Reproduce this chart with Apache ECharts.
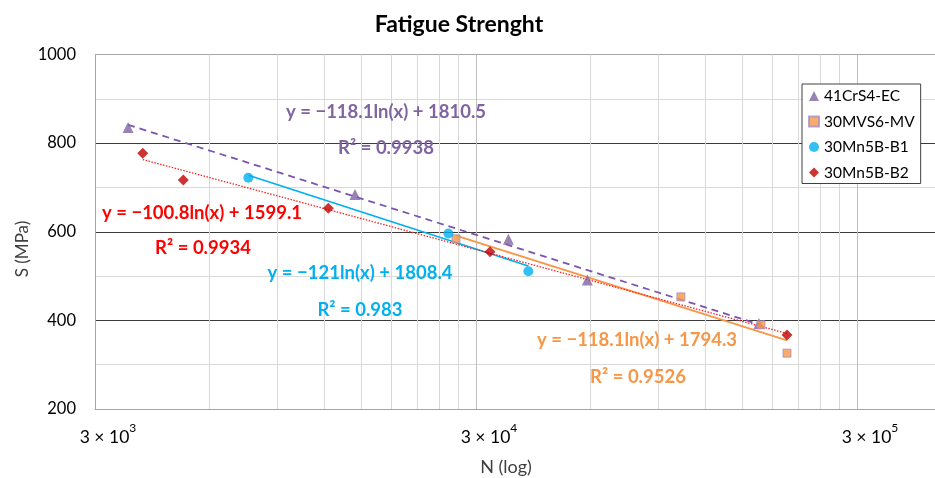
<!DOCTYPE html>
<html>
<head>
<meta charset="utf-8">
<script src="https://cdn.jsdelivr.net/npm/echarts@6/dist/echarts.min.js"></script>
<style>
html,body{margin:0;padding:0;background:#fff;}
#chart{width:935px;height:478px;}
</style>
</head>
<body>
<div id="chart"></div>
<script>
// ---- Data ----
const seriesNames = ['41CrS4-EC', '30MVS6-MV', '30Mn5B-B1', '30Mn5B-B2'];
const crsN = [3663, 14440, 36480, 58800, 165900];
const crsS = [835, 684, 583, 491, 393];
const mvN = [26590, 103500, 167900, 196500];
const mvS = [584, 453, 390, 326];
const b1N = [7578, 25390, 41170];
const b1S = [722, 596, 511];
const b2N = [4003, 5115, 12290, 32650, 196500];
const b2S = [777, 717, 653, 555, 367];
// Trendline equations shown on the chart: y = a*ln(x) + b
const trendA = [-118.1, -118.1, -121, -100.8];
const trendB = [1810.5, 1794.3, 1808.4, 1599.1];
const trendEq = ['y = −118.1ln(x) + 1810.5', 'y = −118.1ln(x) + 1794.3', 'y = −121ln(x) + 1808.4', 'y = −100.8ln(x) + 1599.1'];
const trendR2 = ['R² = 0.9938', 'R² = 0.9526', 'R² = 0.983', 'R² = 0.9934'];
// Axis ticks
const xTickValues = [3000, 30000, 300000];
const xTickExp = ['3', '4', '5'];
const yTicks = [200, 400, 600, 800, 1000];
const xMin = 3000, xMax = 480700;

const FONT = 'Lato, "Open Sans", sans-serif';
const colors = ['#8064A2', '#F79646', '#00B0F0', '#C00000'];
const trendColors = ['#7B55B0', '#F79646', '#00B0F0', '#FF2020'];
const textColors = ['#8064A2', '#F79646', '#00B0F0', '#FF0000'];
const allN = [crsN, mvN, b1N, b2N];
const allS = [crsS, mvS, b1S, b2S];
const symbols = ['triangle', 'rect', 'circle', 'diamond'];
const symSizes = [11, 8, 10, 11];

// vertical grid positions (3000*k per decade)
const xGrid = [];
const xGridColors = [];
[3000, 30000, 300000].forEach(function (d) {
  for (let k = 1; k <= 9; k++) {
    const v = d * k;
    if (v > xMax) break;
    xGrid.push(v);
    xGridColors.push(k === 1 ? '#bfbfbf' : '#d9d9d9');
  }
});

const series = [];
// trend lines
for (let i = 0; i < 4; i++) {
  const ns = allN[i];
  const nMin = Math.min.apply(null, ns), nMax = Math.max.apply(null, ns);
  const pts = [nMin, nMax].map(function (n) { return [n, trendA[i] * Math.log(n) + trendB[i]]; });
  series.push({
    type: 'line',
    name: seriesNames[i] + ' trend',
    data: pts,
    showSymbol: false,
    silent: true,
    z: 1,
    lineStyle: {
      color: trendColors[i],
      width: i === 3 ? 1.3 : 1.8,
      type: i === 0 ? [7, 5] : (i === 3 ? [1.5, 1.5] : 'solid')
    }
  });
}
// scatter points
for (let i = 0; i < 4; i++) {
  series.push({
    type: 'scatter',
    name: seriesNames[i],
    data: allN[i].map(function (n, j) { return [n, allS[i][j]]; }),
    symbol: symbols[i],
    symbolSize: symSizes[i],
    z: 3,
    itemStyle: i === 1 ? { color: colors[i], borderColor: '#A68FC4', borderWidth: 1 } : { color: colors[i] }
  });
}

const eqPos = [[386, 112, 386, 148], [637, 340, 638, 377], [360, 273, 360, 310], [202, 213, 203, 248]];
const graphics = [];
for (let i = 0; i < 4; i++) {
  graphics.push({ type: 'text', x: eqPos[i][0], y: eqPos[i][1], z: 10,
    style: { text: trendEq[i], fill: textColors[i], font: 'bold 18.5px ' + FONT, textAlign: 'center', textVerticalAlign: 'middle' } });
  graphics.push({ type: 'text', x: eqPos[i][2], y: eqPos[i][3], z: 10,
    style: { text: trendR2[i], fill: textColors[i], font: 'bold 18.5px ' + FONT, textAlign: 'center', textVerticalAlign: 'middle' } });
}
graphics.push({ type: 'text', x: 506, y: 467, style: { text: 'N (log)', fill: '#404040', font: '18px ' + FONT, textAlign: 'center', textVerticalAlign: 'middle' } });
graphics.push({ type: 'text', x: 23, y: 249, rotation: Math.PI / 2, style: { text: 'S (MPa)', fill: '#404040', font: '17px ' + FONT, textAlign: 'center', textVerticalAlign: 'middle' } });

const chart = echarts.init(document.getElementById('chart'), null, { renderer: 'canvas' });
chart.setOption({
  animation: false,
  backgroundColor: '#ffffff',
  title: {
    text: 'Fatigue Strenght',
    left: 454, top: 8,
    textAlign: 'center',
    textStyle: { fontFamily: FONT, fontWeight: 'bold', fontSize: 23, color: '#000' }
  },
  legend: {
    data: seriesNames.map(function (n, i) { return { name: n, icon: symbols[i] }; }),
    orient: 'vertical',
    left: 802, top: 84,
    padding: [3, 6, 2, 6],
    itemWidth: 10, itemHeight: 10,
    itemGap: 7.5,
    backgroundColor: '#fff',
    borderColor: '#404040',
    borderWidth: 1,
    textStyle: { fontFamily: FONT, fontSize: 15.5, color: '#000', lineHeight: 18 }
  },
  grid: { left: 95, right: 0, top: 54.5, bottom: 69, containLabel: false },
  xAxis: {
    type: 'log',
    logBase: 10,
    min: xMin,
    max: xMax,
    axisLine: { show: true, lineStyle: { color: '#a6a6a6', width: 1 } },
    axisTick: { show: false, customValues: xGrid },
    splitLine: { show: true, lineStyle: { color: xGridColors, width: 1 } },
    axisLabel: {
      customValues: xTickValues,
      margin: 13,
      padding: [0, 0, 0, 26],
      formatter: function (v) {
        const idx = xTickValues.indexOf(v);
        return '{b|3 × 10}{s|' + (idx >= 0 ? xTickExp[idx] : '') + '}';
      },
      rich: {
        b: { fontFamily: FONT, fontSize: 17.5, color: '#000', lineHeight: 24, verticalAlign: 'bottom' },
        s: { fontFamily: FONT, fontSize: 12, color: '#000', lineHeight: 24, verticalAlign: 'top' }
      }
    }
  },
  yAxis: {
    type: 'value',
    min: 200, max: 1000, interval: 100,
    axisLine: { show: true, lineStyle: { color: '#a6a6a6', width: 1 } },
    axisTick: { show: false },
    axisLabel: {
      fontFamily: FONT, fontSize: 16.5, color: '#000', margin: 19,
      formatter: function (v) { return yTicks.indexOf(v) >= 0 ? String(v) : ''; }
    },
    splitLine: { show: true, lineStyle: { color: ['#a6a6a6', '#d9d9d9', '#3a3a3a', '#d9d9d9', '#3a3a3a', '#d9d9d9', '#3a3a3a', '#d9d9d9', '#a6a6a6'], width: 1 } }
  },
  series: series,
  graphic: graphics
});
</script>
</body>
</html>
